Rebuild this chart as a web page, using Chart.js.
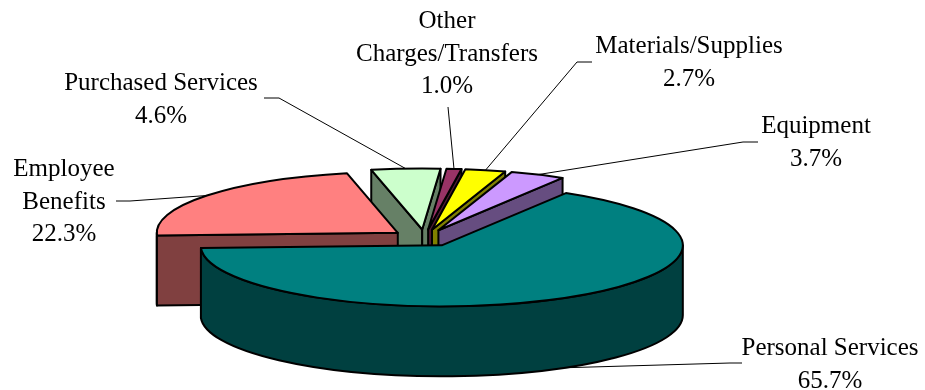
<!DOCTYPE html>
<html>
<head>
<meta charset="utf-8">
<script src="https://cdn.jsdelivr.net/npm/chart.js@4/dist/chart.umd.min.js"></script>
<style>
  html, body { margin: 0; padding: 0; background: #fff; }
  canvas { display: block; }
</style>
</head>
<body>
<canvas id="pie" width="925" height="390"></canvas>
<script>
// budget shares, clockwise from the upper right
const categories = ['Personal Services', 'Employee Benefits', 'Purchased Services',
                    'Other Charges/Transfers', 'Materials/Supplies', 'Equipment'];
const shares = [65.7, 22.3, 4.6, 1.0, 2.7, 3.7];
const labelLines = [['Personal Services'], ['Employee', 'Benefits'], ['Purchased Services'],
                    ['Other', 'Charges/Transfers'], ['Materials/Supplies'], ['Equipment']];

const topColors  = ['#008080', '#ff8080', '#ccffcc', '#993366', '#ffff00', '#cc99ff'];
const sideColors = ['#004040', '#804040', '#668066', '#4d1a33', '#808000', '#664d80'];

// label text: centre x, first baseline
const labelAt = [[830, 355], [64, 176], [161, 90], [447, 28], [689, 53], [816, 133]];
// leader start [x, y, elbowX]
const leaderFrom = [[742, 363, 730], [116, 201, 130], [264, 98, 279],
                    [448, 107, 448], [592, 62, 577], [758, 142, 743]];

const pie3d = {
  id: 'pie3d',
  afterDatasetsUpdate(chart, args, opts) {
    // pull every slice out along its middle angle
    chart.getDatasetMeta(0).data.forEach(arc => {
      const mid = (arc.startAngle + arc.endAngle) / 2;
      arc.x += Math.cos(mid) * arc.outerRadius * opts.explode;
      arc.y += Math.sin(mid) * arc.outerRadius * opts.explode;
    });
  },
  geom(chart, opts) {
    const a = chart.chartArea;
    const cx = (a.left + a.right) / 2, cy = (a.top + a.bottom) / 2;
    const sx = opts.scaleX, sy = opts.scaleX * opts.tilt;
    return chart.getDatasetMeta(0).data.map((arc, i) => ({
      i,
      ax: cx + sx * (arc.x - cx),
      ay: cy + sy * (arc.y - cy),
      rx: sx * arc.outerRadius,
      ry: sy * arc.outerRadius,
      a1: arc.startAngle,
      a2: arc.endAngle,
      mid: (arc.startAngle + arc.endAngle) / 2
    }));
  },
  beforeDatasetsDraw(chart, args, opts) {
    const ctx = chart.ctx, D = opts.depth;
    const slices = this.geom(chart, opts).sort((p, q) => Math.sin(p.mid) - Math.sin(q.mid));
    ctx.save();
    ctx.lineWidth = opts.lineWidth;
    ctx.strokeStyle = '#000';
    ctx.lineJoin = 'round';
    slices.forEach(s => {
      ctx.fillStyle = sideColors[s.i];
      // outer wall, front half only
      [[-2 * Math.PI, -Math.PI], [0, Math.PI], [2 * Math.PI, 3 * Math.PI]].forEach(([lo, hi]) => {
        const t1 = Math.max(lo, s.a1), t2 = Math.min(hi, s.a2);
        if (t2 <= t1) return;
        ctx.beginPath();
        ctx.ellipse(s.ax, s.ay, s.rx, s.ry, 0, t1, t2);
        ctx.lineTo(s.ax + s.rx * Math.cos(t2), s.ay + s.ry * Math.sin(t2) + D);
        ctx.ellipse(s.ax, s.ay + D, s.rx, s.ry, 0, t2, t1, true);
        ctx.closePath();
        ctx.fill();
        ctx.stroke();
      });
      // cut faces that turn towards the viewer
      const faces = [];
      if (Math.cos(s.a1) < 0) faces.push(s.a1);
      if (Math.cos(s.a2) > 0) faces.push(s.a2);
      faces.forEach(t => {
        const ex = s.ax + s.rx * Math.cos(t), ey = s.ay + s.ry * Math.sin(t);
        ctx.beginPath();
        ctx.moveTo(s.ax, s.ay);
        ctx.lineTo(ex, ey);
        ctx.lineTo(ex, ey + D);
        ctx.lineTo(s.ax, s.ay + D);
        ctx.closePath();
        ctx.fill();
        ctx.stroke();
      });
    });
    ctx.restore();

    // flatten the pie for the top faces
    const a = chart.chartArea;
    const cx = (a.left + a.right) / 2, cy = (a.top + a.bottom) / 2;
    ctx.save();
    ctx.translate(cx, cy);
    ctx.scale(opts.scaleX, opts.scaleX * opts.tilt);
    ctx.translate(-cx, -cy);
  },
  afterDatasetsDraw(chart, args, opts) {
    const ctx = chart.ctx, D = opts.depth;
    ctx.restore();
    const slices = this.geom(chart, opts);

    ctx.save();
    ctx.lineWidth = opts.lineWidth;
    ctx.strokeStyle = '#000';
    ctx.lineJoin = 'round';
    slices.forEach(s => {
      ctx.beginPath();
      ctx.moveTo(s.ax, s.ay);
      ctx.ellipse(s.ax, s.ay, s.rx, s.ry, 0, s.a1, s.a2);
      ctx.closePath();
      ctx.stroke();
    });

    // leader lines
    ctx.lineWidth = 1;
    slices.forEach(s => {
      const [x0, y0, ex] = leaderFrom[s.i];
      let px = s.ax + s.rx * Math.cos(s.mid), py = s.ay + s.ry * Math.sin(s.mid);
      if (Math.sin(s.mid) > 0) py += D;
      ctx.beginPath();
      ctx.moveTo(x0, y0);
      ctx.lineTo(ex, y0);
      ctx.lineTo(px, py);
      ctx.stroke();
    });

    // labels
    ctx.fillStyle = '#000';
    ctx.font = '25px "Liberation Serif", "Times New Roman", serif';
    ctx.textAlign = 'center';
    ctx.textBaseline = 'alphabetic';
    slices.forEach(s => {
      const [lx, ly] = labelAt[s.i];
      const lines = labelLines[s.i].concat([shares[s.i].toFixed(1) + '%']);
      lines.forEach((t, k) => ctx.fillText(t, lx, ly + k * 32.5));
    });
    ctx.restore();
  }
};

new Chart(document.getElementById('pie'), {
  type: 'pie',
  data: {
    labels: categories,
    datasets: [{
      data: shares,
      backgroundColor: topColors,
      borderWidth: 0,
      clip: false
    }]
  },
  options: {
    responsive: false,
    animation: false,
    events: [],
    rotation: 31,
    layout: { padding: { left: 0, right: 76, top: 86, bottom: 0 } },
    plugins: {
      legend: { display: false },
      tooltip: { enabled: false },
      pie3d: { scaleX: 1.586, tilt: 0.253, depth: 70, explode: 0.14, lineWidth: 2 }
    }
  },
  plugins: [pie3d]
});
</script>
</body>
</html>
